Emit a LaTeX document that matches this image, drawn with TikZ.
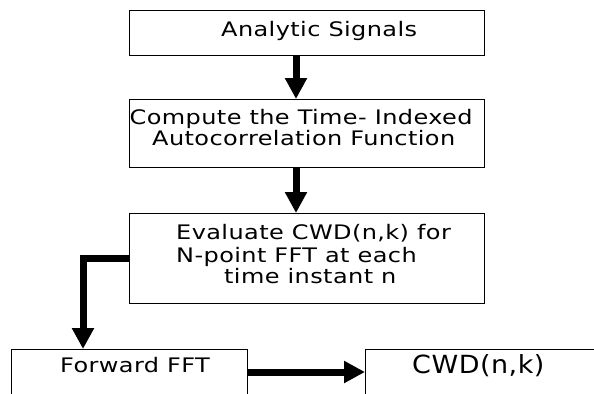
\documentclass[tikz,border=0pt]{standalone}
\usepackage{fontspec}
\setmainfont{DejaVu Sans}[LetterSpace=2,FakeStretch=1.2]
\newfontfamily\cwdfont{DejaVu Sans}[LetterSpace=2,FakeStretch=1.08]
\usetikzlibrary{arrows.meta}
\begin{document}
\begin{tikzpicture}[x=1bp,y=-1bp,
  box/.style={draw, line width=1.3bp, inner sep=0, anchor=north west},
  lbl/.style={inner sep=0, anchor=base west, font=\fontsize{20bp}{24bp}\selectfont},
  arr/.style={line width=7bp, line join=miter, -{Triangle[length=21bp,width=21bp]}}]
\useasboundingbox (0,0) rectangle (594,393);
\clip (0,0) rectangle (594,393);
% boxes
\node[box, minimum width=355bp, minimum height=45bp] (b1) at (129,10) {};
\node[box, minimum width=355bp, minimum height=68bp] (b2) at (129,99) {};
\node[box, minimum width=355bp, minimum height=90bp] (b3) at (129,213) {};
\node[box, minimum width=236bp, minimum height=60bp] (b4) at (11,349) {};
\node[box, minimum width=260bp, minimum height=60bp] (b5) at (365,349) {};
% texts
\node[lbl] (t1) at (221,36) {Analytic Signals};
\node[lbl] (t2a) at (129.5,124) {Compute the Time- Indexed};
\node[lbl] (t2b) at (152,145) {Autocorrelation Function};
\node[lbl] (t3a) at (176,239) {Evaluate CWD(n,k) for};
\node[lbl] (t3b) at (176,262) {N-point FFT at each};
\node[lbl] (t3c) at (224,283) {time instant n};
\node[lbl] (t4) at (60,372) {Forward FFT};
\node[lbl, font=\cwdfont\fontsize{25bp}{28bp}\selectfont] (t5) at (412,373) {CWD(n,k)};
% connectors
\coordinate (ca) at (296,0);
\draw[arr] (b1.south -| ca) -- (b2.north -| ca);
\draw[arr] (b2.south -| ca) -- (b3.north -| ca);
\coordinate (cb) at (83,258);
\draw[arr] (b3.west |- cb) -| (b4.north -| cb);
\coordinate (cc) at (0,372);
\draw[arr] (b4.east |- cc) -- (b5.west |- cc);
\end{tikzpicture}
\end{document}
